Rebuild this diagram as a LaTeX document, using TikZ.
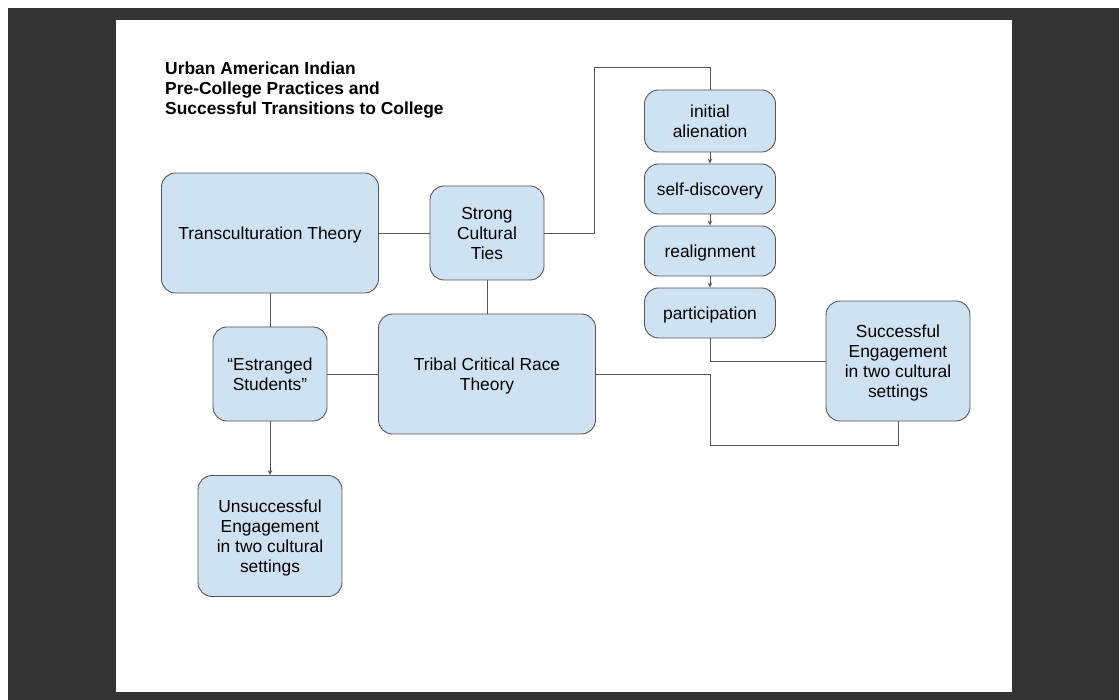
\documentclass[tikz,border=0pt]{standalone}
\usepackage{fontspec}
\setmainfont{Liberation Sans}
\usetikzlibrary{arrows.meta}
\definecolor{boxfill}{HTML}{CFE2F3}
\definecolor{boxline}{HTML}{555555}
\definecolor{viewer}{HTML}{323232}
% struts so that every box text sits like a line box
\newcommand{\bx}[1]{\rule{0pt}{15.8pt}#1\rule[-3.7pt]{0pt}{3.7pt}}

\begin{document}
\begin{tikzpicture}[x=1pt,y=-1pt,
        box/.style={draw=boxline, fill=boxfill, line width=0.9pt, rounded corners=14pt,
            align=center, inner sep=0pt, font=\fontsize{17.4}{20}\selectfont},
        link/.style={draw=boxline, line width=0.9pt},
        flow/.style={link, -{Stealth[length=5pt,width=4.5pt]}}
        ]
            %viewer window and page
            \fill[white] (0,0) rectangle (1119,700);
            \fill[viewer] (8,8) rectangle (1119,700);
            \fill[white] (116,20) rectangle (1012,692);
            \useasboundingbox (0,0) rectangle (1119,700);

            \node[anchor=north west, align=left, inner sep=0pt,
                font=\bfseries\fontsize{17.4}{20}\selectfont] (title) at (165,62)
                {Urban American Indian\\Pre-College Practices and\\Successful Transitions to College};

            %left part
            \node[box, minimum width=217pt, minimum height=120pt] (trans) at (270,233) {\bx{Transculturation Theory}};
            \node[box, minimum width=114pt, minimum height=94pt] (ties) at (487,233) {\bx{Strong\\Cultural\\Ties}};
            \node[box, minimum width=217pt, minimum height=120pt] (tribal) at (487,374) {\bx{Tribal Critical Race\\Theory}};
            \node[box, minimum width=114pt, minimum height=94pt] (estr) at (270,374) {\bx{``Estranged\\Students''}};
            \node[box, minimum width=144pt, minimum height=121pt] (unsucc) at (270,536) {\bx{Unsuccessful\\Engagement\\in two cultural\\settings}};

            %right part
            \node[box, minimum width=131pt, minimum height=62pt] (alien) at (710,121) {\bx{initial\\alienation}};
            \node[box, minimum width=131pt, minimum height=50pt] (discov) at (710,189) {\bx{self-discovery}};
            \node[box, minimum width=131pt, minimum height=50pt] (realign) at (710,251) {\bx{realignment}};
            \node[box, minimum width=131pt, minimum height=50pt] (partic) at (710,313) {\bx{participation}};
            \node[box, minimum width=144pt, minimum height=120pt] (succ) at (898,361) {\bx{Successful\\Engagement\\in two cultural\\settings}};

            \coordinate (topbend) at (594,67);
            \coordinate (lowbend) at (710,445);

            \draw[link] (trans) -- (ties);
            \draw[link] (ties.east) -| (topbend) -| (alien.north);
            \draw[flow] (alien) -- (discov);
            \draw[flow] (discov) -- (realign);
            \draw[flow] (realign) -- (partic);
            \draw[link] (partic.south) |- (succ.west);
            \draw[link] (tribal.east) -| (lowbend) -| (succ.south);
            \draw[link] (trans) -- (estr);
            \draw[link] (ties) -- (tribal);
            \draw[link] (estr) -- (tribal);
            \draw[flow] (estr) -- (unsucc);
        \end{tikzpicture}
\end{document}
